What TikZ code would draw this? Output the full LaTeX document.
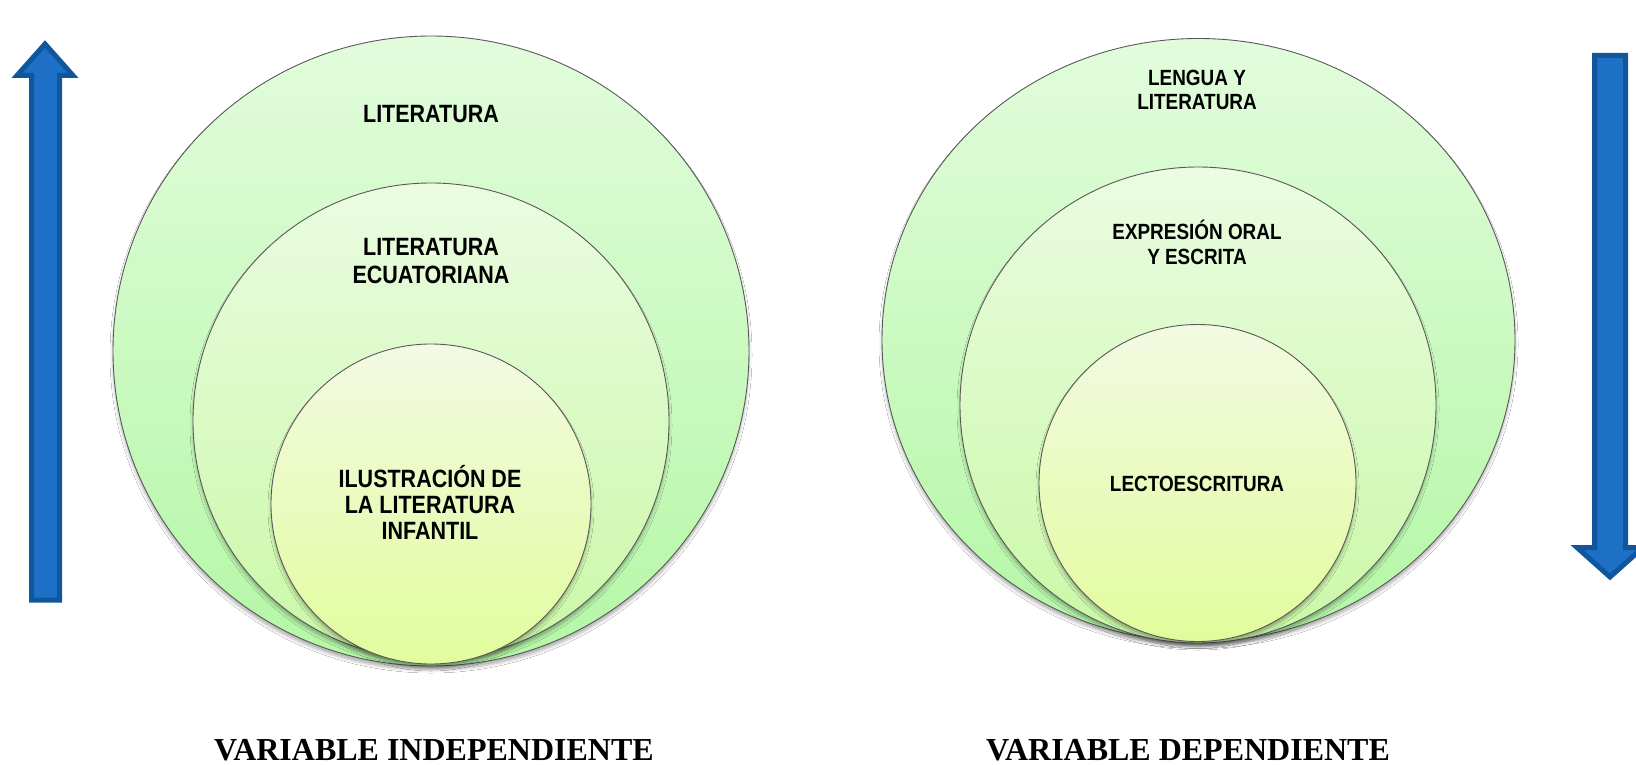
\documentclass[tikz,border=0pt]{standalone}
\usepackage{fontspec}
\setmainfont{Liberation Serif}
\newfontfamily\labfont[FakeStretch=0.86]{Liberation Sans}
\usetikzlibrary{shadows.blur,shapes.geometric}
\definecolor{arrowfill}{HTML}{1E6FC6}
\definecolor{arrowedge}{HTML}{10569C}
\definecolor{outerTop}{HTML}{E2FCDC}
\definecolor{outerBot}{HTML}{B4F7A6}
\definecolor{midTop}{HTML}{EAFCE2}
\definecolor{midBot}{HTML}{CAF8A6}
\definecolor{inTop}{HTML}{F2FAE2}
\definecolor{inBot}{HTML}{E2FC9C}
\begin{document}
\begin{tikzpicture}[x=1pt,y=-1pt,
  ringbase/.style={draw=black!65, line width=0.9pt, inner sep=0pt,
    blur shadow={shadow xshift=0pt, shadow yshift=-4pt, shadow blur radius=3pt, shadow opacity=30}},
  ring/.style={circle, ringbase},
  outerring/.style={ring, top color=outerTop, bottom color=outerBot},
  midring/.style={ring, top color=midTop, bottom color=midBot},
  innerring/.style={ring, top color=inTop, bottom color=inBot},
  bigtxt/.style={font=\labfont\bfseries\fontsize{25}{27.5}\selectfont, align=center, inner sep=0pt},
  smalltxt/.style={font=\labfont\bfseries\fontsize{22}{24}\selectfont, align=center, inner sep=0pt},
  vartxt/.style={font=\bfseries\fontsize{32}{36}\selectfont, anchor=base, inner sep=0pt},
  blockarrow/.style={fill=arrowfill, draw=arrowedge, line width=5pt, line join=miter}
]
\useasboundingbox (0,0) rectangle (1636,765);
\fill[white] (0,0) rectangle (1636,765);

% Left arrow (up)
\draw[blockarrow] (31.5,600) -- (31.5,75.5) -- (17,75.5) -- (45,44) -- (73,75.5) -- (59.5,75.5) -- (59.5,600) -- cycle;
% Right arrow (down)
\draw[blockarrow] (1594.5,55.5) -- (1625.5,55.5) -- (1625.5,547.5) -- (1643,547.5) -- (1610,577) -- (1577,547.5) -- (1594.5,547.5) -- cycle;

% Left circles
\node[ellipse, ringbase, top color=outerTop, bottom color=outerBot, minimum width=636pt, minimum height=630pt] (lo) at (431,351) {};
\node[midring, minimum size=476pt] (lm) at (431,421) {};
\node[innerring, minimum size=320pt] (li) at (431,504) {};

% Right circles
\node[ellipse, ringbase, top color=outerTop, bottom color=outerBot, minimum width=633pt, minimum height=603pt] (ro) at (1198.5,340) {};
\node[midring, minimum size=476pt] (rm) at (1198,405) {};
\node[innerring, minimum size=317pt] (ri) at (1197.5,483) {};

% Left texts
\node[bigtxt] (t1) at (431,114) {LITERATURA};
\node[bigtxt] (t2) at (431,261) {LITERATURA\\ECUATORIANA};
\node[bigtxt, font=\labfont\bfseries\fontsize{25}{26}\selectfont] (t3) at (430,502.5) {ILUSTRACIÓN DE\\LA LITERATURA\\INFANTIL};

% Right texts
\node[smalltxt] (r1) at (1197,89.5) {LENGUA Y\\LITERATURA};
\node[smalltxt, font=\labfont\bfseries\fontsize{22}{25}\selectfont] (r2) at (1197,242.5) {EXPRESIÓN ORAL\\Y ESCRITA};
\node[smalltxt] (r3) at (1197,484) {LECTOESCRITURA};

% Bottom labels
\node[vartxt] (vi) at (434,760) {VARIABLE INDEPENDIENTE};
\node[vartxt] (vd) at (1188,760) {VARIABLE DEPENDIENTE};
\end{tikzpicture}
\end{document}
